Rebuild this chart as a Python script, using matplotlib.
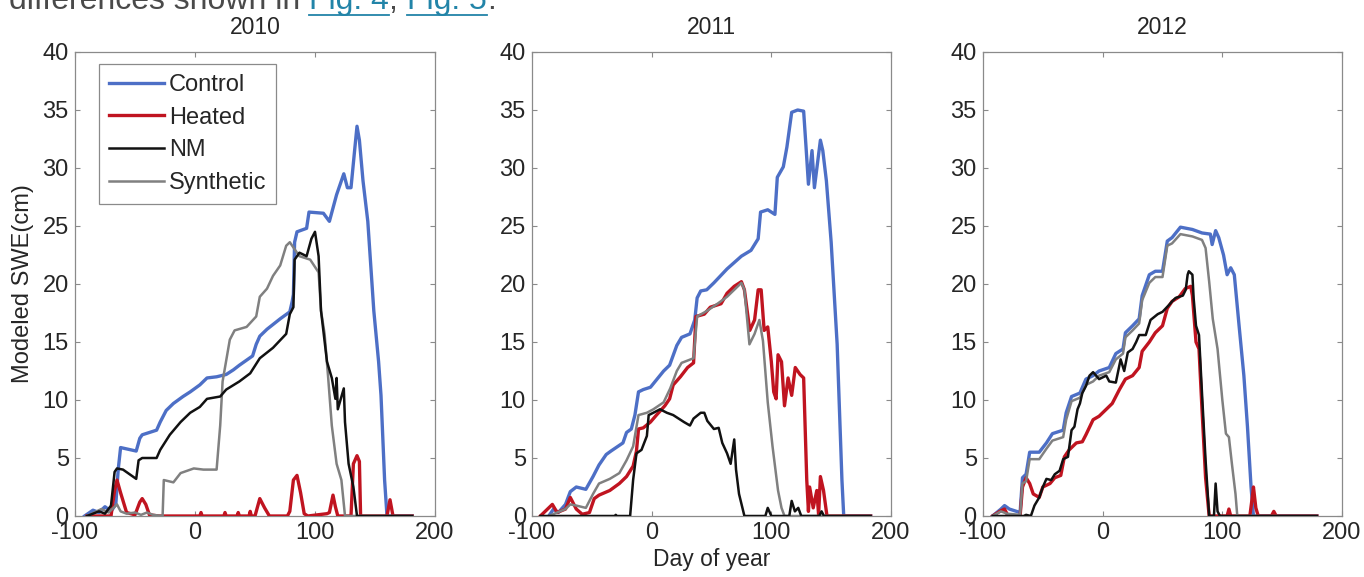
import matplotlib
matplotlib.use("Agg")
import matplotlib.pyplot as plt
from matplotlib.lines import Line2D

plt.rcParams['font.family'] = ['Liberation Sans', 'DejaVu Sans']
plt.rcParams['axes.unicode_minus'] = False

# ---------------- data ----------------
years = ['2010', '2011', '2012']
series_names = ['Control', 'Heated', 'NM', 'Synthetic']
x_ticks = [-100, 0, 100, 200]
y_ticks = [0, 5, 10, 15, 20, 25, 30, 35, 40]
x_label = 'Day of year'
y_label = 'Modeled SWE(cm)'

# 2010
ctrl_day_2010 = [-92, -85, -80, -75, -70, -66, -64, -62, -49, -46, -44, -32, -29, -24, -18, -10, -4, 4, 10, 18,
                 26, 32, 37, 48, 51, 54, 60, 71, 79, 81, 82, 83, 85, 93, 95, 107, 112, 118, 124, 127,
                 130, 133, 135, 137, 140, 144, 149, 153, 155, 158, 160, 181]
ctrl_swe_2010 = [0, 0.5, 0.3, 0.8, 0.4, 1.0, 4.0, 5.9, 5.6, 6.7, 7.0, 7.4, 8.1, 9.1, 9.7, 10.3, 10.7, 11.3, 11.9, 12.0,
                 12.2, 12.6, 13.0, 13.8, 14.8, 15.5, 16.1, 17.0, 17.6, 18.5, 19.1, 23.6, 24.5, 24.8, 26.2, 26.1, 25.4, 27.7, 29.5, 28.3,
                 28.3, 31.5, 33.6, 32.4, 28.9, 25.4, 17.7, 13.3, 10.4, 3.1, 0, 0]
heat_day_2010 = [-90, -70, -67, -65, -62, -57, -50, -46, -44, -41, -38, -30, 4, 5, 6, 24, 25, 26, 35, 36,
                 37, 45, 46, 47, 50, 54, 58, 62, 77, 79, 82, 85, 88, 91, 94, 110, 112, 115, 117, 119,
                 130, 132, 135, 137, 138, 160, 162.5, 165, 181]
heat_swe_2010 = [0, 0, 2.2, 3.1, 2.0, 0.3, 0.1, 1.2, 1.5, 1.0, 0.1, 0, 0, 0.3, 0, 0, 0.3, 0, 0, 0.3,
                 0, 0, 0.4, 0, 0, 1.5, 0.7, 0, 0, 0.4, 3.1, 3.5, 2.0, 0.2, 0, 0.2, 0.3, 1.8, 0.8, 0,
                 0, 4.5, 5.2, 4.7, 0, 0, 1.4, 0, 0]
nm_day_2010 = [-90, -80, -75, -70, -67, -65, -60, -49, -47, -44, -32, -29, -21, -12, -4, 4, 10, 21, 26, 37,
               46, 54, 65, 76, 79, 82, 83, 87, 93, 97, 100, 103, 105, 110, 114, 117, 118, 119, 124, 125,
               128, 132, 135, 181]
nm_swe_2010 = [0, 0.4, 0.2, 0.9, 3.8, 4.1, 4.0, 3.2, 4.8, 5.0, 5.0, 5.7, 7.0, 8.1, 8.9, 9.4, 10.1, 10.3, 10.9, 11.6,
               12.3, 13.6, 14.5, 15.7, 17.4, 18.0, 22.1, 22.7, 22.4, 23.9, 24.5, 22.4, 17.7, 13.3, 11.9, 10.1, 11.9, 9.2, 11.0, 8.1,
               4.5, 2.5, 0, 0]
syn_day_2010 = [-90, -78, -72, -65, -62, -57, -50, -45, -40, -35, -27, -26, -18, -12, -1, 7, 18, 21, 23, 29,
                33, 43, 51, 54, 60, 65, 71, 76, 79, 87, 96, 103, 105, 108, 111, 114, 118, 122, 125, 181]
syn_swe_2010 = [0, 0.6, 0.3, 1.0, 0.4, 0.2, 0.3, 0.1, 0.3, 0.1, 0, 3.1, 2.9, 3.7, 4.1, 4.0, 4.0, 7.8, 11.6, 15.2,
                16.0, 16.3, 17.2, 18.9, 19.6, 20.7, 21.6, 23.3, 23.6, 22.4, 22.1, 21.0, 17.7, 15.7, 11.9, 7.8, 4.5, 3.1, 0, 0]

# 2011
ctrl_day_2011 = [-86, -82, -78, -72, -68, -63, -55, -49, -44, -38, -34, -24, -21, -17, -14, -11, -7, -1, 10, 15,
                 21, 25, 32, 36, 38, 41, 46, 52, 63, 75, 83, 89, 91, 97, 103, 105, 110, 113, 117, 122,
                 127, 129, 131, 134, 136, 141, 143, 146, 150, 155, 159, 160.5, 183]
ctrl_swe_2011 = [0, 0.6, 0.3, 1.0, 2.1, 2.5, 2.3, 3.4, 4.4, 5.3, 5.6, 6.3, 7.2, 7.5, 8.7, 10.7, 10.9, 11.1, 12.5, 13.0,
                 14.7, 15.4, 15.7, 16.9, 18.8, 19.4, 19.5, 20.1, 21.3, 22.4, 22.9, 23.9, 26.2, 26.4, 26.0, 29.2, 30.1, 31.8, 34.8, 35.0,
                 34.9, 31.8, 28.6, 31.5, 28.3, 32.4, 31.5, 28.9, 23.6, 14.8, 3.1, 0, 0]
heat_day_2011 = [-93, -83, -79, -72, -68, -63, -58, -52, -48, -44, -35, -27, -21, -15.5, -12.7, -11, -7, -1, 4, 11,
                 15, 18, 24, 30, 35, 37, 44, 49, 58, 63, 69, 75, 77.5, 82, 86, 89, 91.5, 94, 97, 100,
                 102, 104, 105.6, 108.5, 111, 114, 117, 120, 124, 127, 129.6, 131, 132, 135, 138, 139.5, 141, 143.6, 146.5, 183]
heat_swe_2011 = [0, 1.0, 0.3, 0.6, 1.6, 0.6, 0.15, 0.3, 1.5, 1.8, 2.2, 2.8, 3.4, 4.3, 5.6, 7.5, 7.6, 8.1, 8.7, 9.5,
                 10.1, 11.3, 12.0, 12.8, 13.2, 17.2, 17.4, 18.0, 18.3, 19.2, 19.8, 20.2, 19.5, 16.0, 16.9, 19.5, 19.5, 16.0, 16.3, 13.3,
                 10.7, 10.1, 13.9, 13.3, 9.5, 11.9, 10.4, 12.8, 12.2, 11.9, 3.1, 0.4, 2.5, 0.7, 2.2, 0.1, 3.4, 2.2, 0, 0]
nm_day_2011 = [-93, -31, -30, -29, -18, -15.5, -12.7, -8.5, -4, -2.5, 1.4, 7, 12.7, 18, 27, 32, 35, 41, 44, 46.5,
               52, 56, 59, 63, 66, 69, 70.5, 73, 77.5, 95, 97, 100, 115, 117, 119.7, 122.5, 125, 140, 142, 144, 183]
nm_swe_2011 = [0, 0, 0.1, 0, 0, 3.1, 5.4, 5.7, 6.9, 8.7, 8.9, 9.2, 8.9, 8.7, 8.1, 7.8, 8.4, 8.9, 8.9, 8.2,
               7.5, 7.6, 6.3, 5.4, 4.5, 6.6, 4.0, 1.9, 0, 0, 0.7, 0, 0, 1.3, 0.4, 0.7, 0, 0, 0.4, 0, 0]
syn_day_2011 = [-86, -72, -68, -63, -55, -49, -44, -35, -27, -21, -15.5, -11, -4, 1.4, 10, 15.5, 21, 25, 35, 38,
                46.5, 55, 63, 69, 75, 77.5, 81.7, 86, 90, 93, 97, 101, 105.6, 108.5, 111, 183]
syn_swe_2011 = [0, 0.6, 1.0, 0.9, 0.7, 1.9, 2.8, 3.2, 3.7, 4.8, 6.0, 8.7, 8.9, 9.2, 9.8, 11.0, 12.5, 13.2, 13.6, 17.2,
                17.7, 18.3, 18.9, 19.5, 20.1, 19.5, 14.8, 15.7, 16.9, 15.1, 9.8, 6.0, 2.2, 0.7, 0, 0]

# 2012
ctrl_day_2012 = [-92, -85, -82, -78, -69, -67, -64, -61, -53, -47, -42, -33, -30.5, -26, -19, -14, -8, -3, 5.5, 11,
                 17, 19, 25, 30.5, 33, 39, 44, 50, 54, 58, 65, 75, 83, 90, 91.5, 94.4, 97, 101, 104, 107,
                 110, 114, 118, 121, 124, 126, 179]
ctrl_swe_2012 = [0, 0.6, 0.9, 0.6, 0.3, 3.3, 3.6, 5.5, 5.5, 6.3, 7.1, 7.4, 8.9, 10.3, 10.6, 11.8, 12.1, 12.5, 12.8, 14.0,
                 14.4, 15.8, 16.4, 17.0, 19.0, 20.8, 21.1, 21.1, 23.7, 24.0, 24.9, 24.7, 24.4, 24.3, 23.4, 24.6, 24.0, 22.5, 20.8, 21.4,
                 20.8, 16.4, 12.1, 7.7, 2.5, 0, 0]
heat_day_2012 = [-92, -86, -82, -79, -69, -67, -64, -61, -58, -53, -50, -44, -40, -35, -32, -28, -22, -17, -14, -8,
                 -3, 3, 8, 14, 19, 25, 30.5, 33, 39, 44, 50, 54, 58, 64, 69, 73.6, 75, 78, 80.5, 83,
                 86, 89, 104, 105.5, 107, 123, 125, 126, 128, 130, 141, 143, 145, 179]
heat_swe_2012 = [0, 0.4, 0.6, 0, 0, 2.5, 3.3, 2.8, 1.9, 1.6, 2.5, 2.8, 3.3, 3.5, 5.1, 5.7, 6.3, 6.4, 7.0, 8.3,
                 8.6, 9.2, 9.7, 10.9, 11.8, 12.1, 12.8, 14.2, 15.0, 15.8, 16.4, 17.9, 18.5, 18.9, 19.6, 19.8, 19.0, 15.0, 14.4, 9.2,
                 3.3, 0, 0, 0.6, 0, 0, 1.6, 2.5, 0.7, 0, 0, 0.4, 0, 0]
nm_day_2012 = [-92, -66, -64, -60, -57, -53, -50, -47, -43, -40, -36, -33, -29, -26, -23.6, -21, -19, -17, -14, -11,
               -8, -3, 3, 5.5, 11, 15, 18, 21, 25, 28, 30.5, 36, 40, 46, 50, 55.5, 58, 61, 67, 69.4,
               71, 72, 75, 76, 78, 80.5, 83, 86, 89, 93, 94.4, 96, 98, 179]
nm_swe_2012 = [0, 0, 0.1, 0, 0.9, 1.6, 2.5, 3.2, 3.1, 3.6, 3.9, 4.9, 5.1, 7.4, 7.7, 9.2, 9.7, 10.6, 11.2, 12.1,
               12.4, 11.8, 12.1, 11.6, 11.5, 13.5, 12.5, 14.1, 14.4, 15.0, 15.6, 15.6, 16.9, 17.4, 17.6, 18.2, 18.5, 18.8, 19.0, 19.5,
               20.8, 21.1, 20.8, 18.8, 16.4, 15.6, 10.6, 4.8, 0, 0, 2.8, 0.4, 0, 0]
syn_day_2012 = [-92, -85, -80, -69, -67, -64, -61, -53, -47, -42, -33, -30.5, -26, -19, -14, -8, -3, 5.5, 11, 17,
                19, 25, 30.5, 33, 39, 44, 50, 54, 58, 65, 75, 83, 86, 89, 92, 96, 100, 103, 105.5, 108,
                111, 112.5, 179]
syn_swe_2012 = [0, 0.4, 0.2, 0.1, 2.8, 3.0, 4.9, 4.9, 5.8, 6.5, 6.8, 8.3, 9.9, 10.2, 11.3, 11.6, 12.1, 12.4, 13.5, 14.0,
                15.4, 16.0, 16.6, 18.6, 20.1, 20.6, 20.6, 23.3, 23.5, 24.3, 24.1, 23.8, 23.1, 20.2, 17.0, 14.4, 10.0, 7.1, 6.8, 4.5,
                1.9, 0, 0]

panel_data = {
    '2010': {'Control': (ctrl_day_2010, ctrl_swe_2010), 'Heated': (heat_day_2010, heat_swe_2010),
             'NM': (nm_day_2010, nm_swe_2010), 'Synthetic': (syn_day_2010, syn_swe_2010)},
    '2011': {'Control': (ctrl_day_2011, ctrl_swe_2011), 'Heated': (heat_day_2011, heat_swe_2011),
             'NM': (nm_day_2011, nm_swe_2011), 'Synthetic': (syn_day_2011, syn_swe_2011)},
    '2012': {'Control': (ctrl_day_2012, ctrl_swe_2012), 'Heated': (heat_day_2012, heat_swe_2012),
             'NM': (nm_day_2012, nm_swe_2012), 'Synthetic': (syn_day_2012, syn_swe_2012)},
}

# ---------------- styling ----------------
colors = {'Control': '#4d6fc6', 'Heated': '#c01420', 'NM': '#111111', 'Synthetic': '#808080'}
widths = {'Control': 2.4, 'Heated': 2.4, 'NM': 1.8, 'Synthetic': 1.8}
zorders = {'Control': 2, 'Heated': 3, 'Synthetic': 4, 'NM': 5}
spine_color = '#8a8a8a'
text_color = '#262626'

W, H = 1364, 577
fig = plt.figure(figsize=(W / 100, H / 100), dpi=100)
fig.patch.set_facecolor('white')

boxes = [(75, 52, 435, 516), (532, 52, 891, 516), (983, 52, 1342, 516)]
axes = []
for year, (l, t, r, b) in zip(years, boxes):
    ax = fig.add_axes([l / W, 1 - b / H, (r - l) / W, (b - t) / H])
    handles = {}
    for name in series_names:
        d, s = panel_data[year][name]
        assert len(d) == len(s), (year, name)
        ln, = ax.plot(d, s, color=colors[name], lw=widths[name], zorder=zorders[name],
                      solid_joinstyle='round', label=name)
        handles[name] = ln
    ax.set_xlim(-100, 200)
    ax.set_ylim(0, 40)
    ax.set_xticks(x_ticks)
    ax.set_yticks(y_ticks)
    ax.tick_params(direction='in', length=3.6, width=0.8, color=spine_color, labelcolor=text_color,
                   labelsize=17, top=True, right=True, pad=4.5)
    for sp in ax.spines.values():
        sp.set_color(spine_color)
        sp.set_linewidth(0.9)
    ax.set_title(year, fontsize=16.5, color=text_color, pad=13)
    axes.append((ax, handles))

ax0, h0 = axes[0]
ax0.set_ylabel(y_label, fontsize=17, color=text_color, labelpad=6)
axes[1][0].set_xlabel(x_label, fontsize=16.5, color=text_color, labelpad=3)

leg = ax0.legend([h0[n] for n in series_names], series_names, loc='upper left',
                 bbox_to_anchor=((99 - 75) / 360, (516 - 64) / 464), borderaxespad=0,
                 fontsize=17, handlelength=2.33, handletextpad=0.21, labelspacing=0.45,
                 borderpad=0.42, fancybox=False, framealpha=1, edgecolor=spine_color)
leg.get_frame().set_linewidth(0.9)
for txt in leg.get_texts():
    txt.set_color(text_color)

# ---------------- cut-off caption line at the top ----------------
fig.canvas.draw()
renderer = fig.canvas.get_renderer()
link_color = '#2284a8'
body_color = '#4a4a4a'
pieces = [("differences shown in", body_color, False, 9),
          ("Fig. 4", link_color, True, 309),
          (",", body_color, False, 388),
          ("Fig. 5", link_color, True, 407),
          (".", body_color, False, 487)]
base_y = 1 - 9 / H
for s, c, ul, xp in pieces:
    t = fig.text(xp / W, base_y, s, color=c, fontsize=23, va='baseline', ha='left')
    if ul:
        bb = t.get_window_extent(renderer=renderer)
        fig.add_artist(Line2D([xp / W, (xp + bb.width) / W], [1 - 15 / H, 1 - 15 / H],
                              color=c, lw=1.3, transform=fig.transFigure))

fig.savefig('out.png', dpi=100, facecolor='white')
